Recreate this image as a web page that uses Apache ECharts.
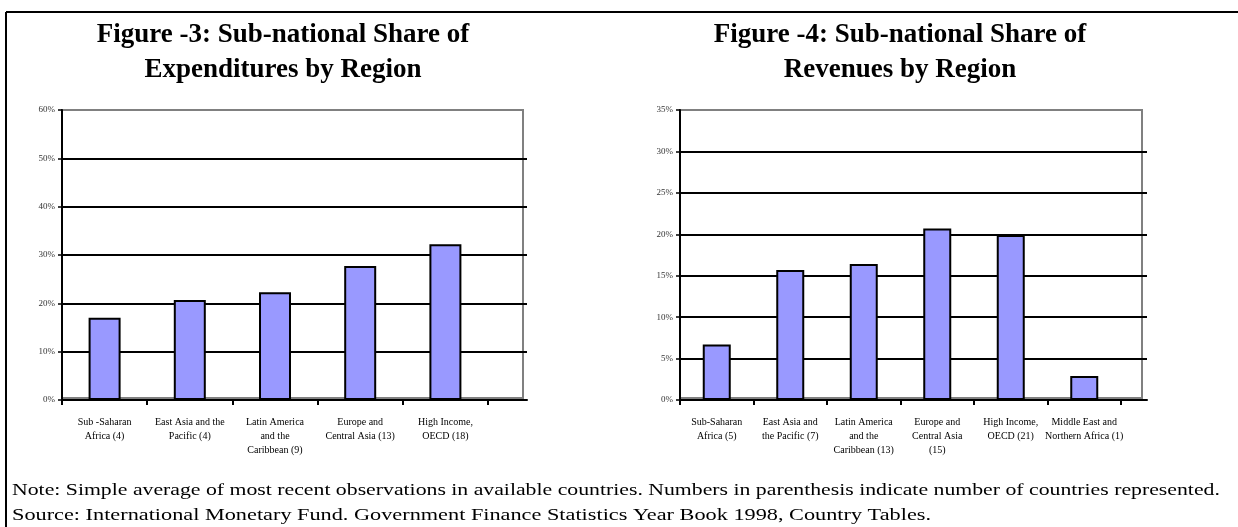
<!DOCTYPE html>
<html>
<head>
<meta charset="utf-8">
<script src="https://cdn.jsdelivr.net/npm/echarts@6/dist/echarts.min.js"></script>
<style>
body { margin: 0; background: #fff; }
#chart { width: 1238px; height: 527px; }
</style>
</head>
<body>
<div id="chart"></div>
<script>
// Figure 3: expenditures
const expCats = ['Sub -Saharan\nAfrica (4)', 'East Asia and the\nPacific (4)', 'Latin America\nand the\nCaribbean (9)', 'Europe and\nCentral Asia (13)', 'High Income,\nOECD (18)']
const expValues = [17.0, 20.7, 22.3, 27.7, 32.2]
const expTicks = { min: 0, max: 60, interval: 10 }

// Figure 4: revenues
const revCats = ['Sub-Saharan\nAfrica (5)', 'East Asia and\nthe Pacific (7)', 'Latin America\nand the\nCaribbean (13)', 'Europe and\nCentral Asia\n(15)', 'High Income,\nOECD (21)', 'Middle East and\nNorthern Africa (1)']
const revValues = [6.7, 15.7, 16.4, 20.7, 19.9, 2.9]
const revTicks = { min: 0, max: 35, interval: 5 }

const titles = ['Figure -3: Sub-national Share of\nExpenditures by Region', 'Figure -4: Sub-national Share of\nRevenues by Region']
const note = 'Note: Simple average of most recent observations in available countries. Numbers in parenthesis indicate number of countries represented.'
const source = 'Source: International Monetary Fund. Government Finance Statistics Year Book 1998, Country Tables.'

const serif = "'Liberation Serif', 'Times New Roman', serif"
const chart = echarts.init(document.getElementById('chart'))

// one panel = gray box grid, line grid (axis + gridlines) and bar grid
function panel(i, left, boxRight, lineRight, barRight, ticks, cats, values, barW) {
  const top = 110, height = 290
  const g = i * 3
  const grids = [
    { left: left, top: top, width: boxRight - left, height: height - 2, show: true, borderColor: '#808080', borderWidth: 2 },
    { left: left, top: top, width: lineRight - left, height: height },
    { left: left, top: top, width: barRight - left, height: height }
  ]
  const xAxes = [
    { gridIndex: g, type: 'category', data: [''], show: false },
    { gridIndex: g + 1, type: 'category', data: [''], axisLine: { lineStyle: { color: '#000', width: 2 } }, axisTick: { show: false }, axisLabel: { show: false } },
    {
      gridIndex: g + 2, type: 'category', data: cats,
      axisLine: { show: false },
      axisTick: { show: true, length: 5, inside: false, lineStyle: { color: '#000', width: 2 }, interval: 0 },
      axisLabel: { interval: 0, fontFamily: serif, fontSize: 10, lineHeight: 14, color: '#000', margin: 15, verticalAlign: 'top' }
    }
  ]
  const yAxes = [
    { gridIndex: g, type: 'value', min: ticks.min, max: ticks.max, show: false },
    {
      gridIndex: g + 1, type: 'value', min: ticks.min, max: ticks.max, interval: ticks.interval,
      axisLine: { show: true, lineStyle: { color: '#000', width: 2 } },
      axisTick: { show: true, length: 4, lineStyle: { color: '#000', width: 1.5 } },
      axisLabel: { formatter: '{value}%', fontFamily: serif, fontSize: 9, color: '#333', margin: 7 },
      splitLine: { show: true, showMinLine: false, showMaxLine: false, lineStyle: { color: '#000', width: 2 } }
    },
    { gridIndex: g + 2, type: 'value', min: ticks.min, max: ticks.max, show: false }
  ]
  const series = [{
    type: 'bar', xAxisIndex: g + 2, yAxisIndex: g + 2, data: values, barWidth: barW,
    itemStyle: { color: '#9999ff', borderColor: '#000', borderWidth: 2 }
  }]
  return { grids, xAxes, yAxes, series }
}

const p1 = panel(0, 62, 523, 527, 488, expTicks, expCats, expValues, 32)
const p2 = panel(1, 680, 1142, 1147, 1121, revTicks, revCats, revValues, 28)

const option = {
  animation: false,
  grid: p1.grids.concat(p2.grids),
  xAxis: p1.xAxes.concat(p2.xAxes),
  yAxis: p1.yAxes.concat(p2.yAxes),
  series: p1.series.concat(p2.series),
  graphic: [
    { type: 'line', shape: { x1: 6, y1: 12, x2: 1238, y2: 12 }, style: { stroke: '#000', lineWidth: 2 } },
    { type: 'line', shape: { x1: 6, y1: 12, x2: 6, y2: 527 }, style: { stroke: '#000', lineWidth: 2 } },
    { type: 'text', x: 283, y: 18, style: { text: titles[0], textAlign: 'center', font: 'bold 27px ' + serif, lineHeight: 35, fill: '#000' } },
    { type: 'text', x: 900, y: 18, style: { text: titles[1], textAlign: 'center', font: 'bold 27px ' + serif, lineHeight: 35, fill: '#000' } },
    { type: 'text', x: 12, y: 482, scaleX: 1.28, style: { text: note, font: '17px ' + serif, fill: '#000' } },
    { type: 'text', x: 12, y: 507, scaleX: 1.31, style: { text: source, font: '17px ' + serif, fill: '#000' } }
  ]
}
chart.setOption(option)
</script>
</body>
</html>
